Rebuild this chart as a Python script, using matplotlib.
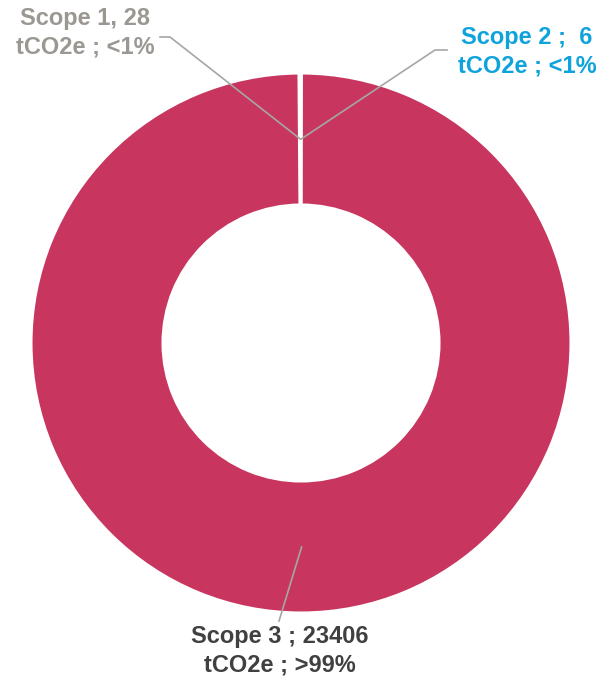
import matplotlib
matplotlib.use("Agg")
import matplotlib.pyplot as plt
import numpy as np

# emissions by scope (tCO2e)
scopes = ["Scope 1", "Scope 2", "Scope 3"]
values = [28, 6, 23406]
labels = ["Scope 1, 28\ntCO2e ; <1%", "Scope 2 ;  6\ntCO2e ; <1%", "Scope 3 ; 23406\ntCO2e ; >99%"]

colors = ["#9B9792", "#0FA3DB", "#C8365F"]
text_colors = ["#9B9792", "#0FA3DB", "#404040"]

plt.rcParams['font.family'] = ['Liberation Sans', 'DejaVu Sans']

W, H = 598, 680
cx, cy, R = 301, 343, 270
fig = plt.figure(figsize=(W / 100, H / 100), dpi=100)
ax = fig.add_axes([(cx - R) / W, (H - cy - R) / H, 2 * R / W, 2 * R / H])

total = sum(values)
start = 90 + 360 * values[0] / total
width = (270 - 138) / 270
wedges, _ = ax.pie(values, colors=colors, startangle=start, counterclock=False,
                   radius=1, wedgeprops=dict(width=width, edgecolor="white", linewidth=2.2))
ax.set_xlim(-1, 1)
ax.set_ylim(-1, 1)
ax.set_aspect("equal")
ax.axis("off")

mid_r = 1 - width / 2


def px(x, y):
    return (x - cx) / R, (cy - y) / R


# leader elbows / ends and text positions (pixel coords of the reference)
leaders = [
    [(170, 37), (160, 37)],
    [(435, 50), (447, 50)],
    [(279, 621)],
]
text_pos = [(85, 33), (527, 52), (280, 651)]

for i, w in enumerate(wedges):
    ang = np.deg2rad((w.theta1 + w.theta2) / 2)
    pts = [(mid_r * np.cos(ang), mid_r * np.sin(ang))] + [px(*p) for p in leaders[i]]
    xs, ys = zip(*pts)
    ax.plot(xs, ys, color="#A6A6A6", lw=1.2, clip_on=False, zorder=5)
    tx, ty = px(*text_pos[i])
    ax.text(tx, ty, labels[i], color=text_colors[i], fontsize=17, fontweight="bold",
            ha="center", va="center", linespacing=1.3, clip_on=False)

fig.savefig("out.png", dpi=100)
